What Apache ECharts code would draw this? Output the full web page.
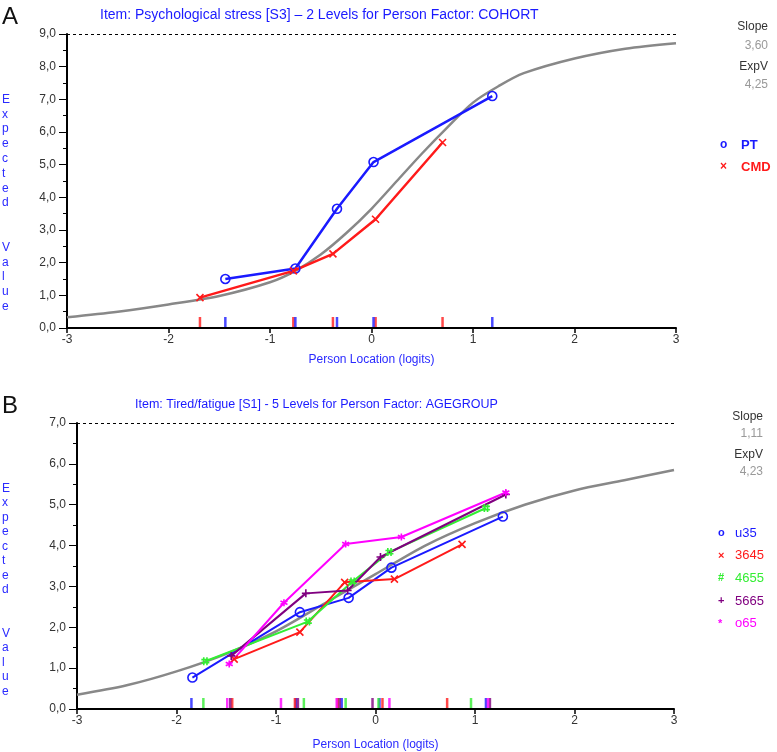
<!DOCTYPE html>
<html><head><meta charset="utf-8">
<script src="https://cdn.jsdelivr.net/npm/echarts@6/dist/echarts.min.js"></script>
<style>html,body{margin:0;padding:0;background:#fff}#c{width:777px;height:752px}</style>
</head><body><div id="c"></div>
<script>
// ---------- Panel A ----------
const titleA = 'Item: Psychological stress [S3] \u2013 2 Levels for Person Factor: COHORT';
const groupsA = ['PT', 'CMD'];
const ptX = [-1.44, -0.75, -0.34, 0.02, 1.19];
const ptY = [1.50, 1.82, 3.65, 5.08, 7.10];
const cmdX = [-1.69, -0.77, -0.38, 0.04, 0.70];
const cmdY = [0.93, 1.75, 2.27, 3.33, 5.68];
const curveAX = [-3, -2.5, -2, -1.5, -1, -0.75, -0.5, -0.25, 0, 0.25, 0.5, 0.75, 1, 1.25, 1.5, 2, 2.5, 3];
const curveAY = [0.33, 0.5, 0.72, 0.98, 1.4, 1.75, 2.25, 2.9, 3.65, 4.5, 5.35, 6.15, 6.9, 7.4, 7.8, 8.25, 8.55, 8.72];
const slopeA = '3,60';
const expVA = '4,25';
const maxA = 9;

// ---------- Panel B ----------
const titleB = 'Item: Tired/fatigue [S1] - 5 Levels for Person Factor: AGEGROUP';
const groupsB = ['u35', '3645', '4655', '5665', 'o65'];
const u35X = [-1.84, -0.76, -0.27, 0.16, 1.28];
const u35Y = [0.77, 2.37, 2.72, 3.46, 4.71];
const g3645X = [-1.42, -0.76, -0.31, 0.19, 0.87];
const g3645Y = [1.22, 1.88, 3.10, 3.18, 4.03];
const g4655X = [-1.71, -0.68, -0.23, 0.14, 1.11];
const g4655Y = [1.17, 2.14, 3.12, 3.84, 4.92];
const g5665X = [-1.45, -0.70, -0.28, 0.05, 1.31];
const g5665Y = [1.30, 2.83, 2.90, 3.72, 5.25];
const o65X = [-1.47, -0.92, -0.30, 0.26, 1.31];
const o65Y = [1.10, 2.60, 4.04, 4.21, 5.30];
const u35Ticks = [-1.85, -0.80, -0.34, 0.04, 1.11];
const g3645Ticks = [-1.44, -0.81, -0.38, 0.07, 0.72];
const g4655Ticks = [-1.73, -0.72, -0.30, 0.03, 0.96];
const g5665Ticks = [-1.46, -0.78, -0.36, -0.03, 1.15];
const o65Ticks = [-1.49, -0.95, -0.39, 0.14, 1.13];
const curveBX = [-3, -2.5, -2, -1.5, -1, -0.5, 0, 0.5, 1, 1.5, 2, 2.5, 3];
const curveBY = [0.35, 0.58, 0.92, 1.35, 1.9, 2.6, 3.3, 4.0, 4.55, 5.0, 5.35, 5.6, 5.85];
const slopeB = '1,11';
const expVB = '4,23';
const maxB = 7;

const xLabel = 'Person Location (logits)';
const yLabel = 'Expected  Value';

const BLUE = '#1a1aff', RED = '#ff1a1a', GREEN = '#33ee33', PURPLE = '#800080', MAG = '#ff00ff', GREY = '#888888';
const SYM_X = 'path://M0,0L10,10M10,0L0,10';
const SYM_HASH = 'path://M3,0L3,10M7,0L7,10M0,3L10,3M0,7L10,7';
const SYM_PLUS = 'path://M5,0L5,10M0,5L10,5';
const SYM_STAR = 'path://M5,0L5,10M0,2.5L10,7.5M0,7.5L10,2.5';
const FONT = '"Liberation Sans", Arial, sans-serif';

const pairs = (xs, ys) => xs.map((x, i) => [x, ys[i]]);

function lineSeries(name, xs, ys, color, symbol, size, idx, width) {
  return {
    type: 'line', name, xAxisIndex: idx, yAxisIndex: idx,
    data: pairs(xs, ys), symbol, symbolSize: size, showAllSymbol: true,
    lineStyle: { color, width },
    itemStyle: { color: 'rgba(0,0,0,0)', borderColor: color, borderWidth: 1.6 },
    z: 3, silent: true
  };
}
function tickSeries(ticks, color, idx) {
  return {
    type: 'scatter', xAxisIndex: idx, yAxisIndex: idx,
    data: ticks.map(t => [t, 0]), symbol: 'rect', symbolSize: [2.5, 10],
    symbolOffset: [0, -6], itemStyle: { color }, clip: false, silent: true, z: 5
  };
}
function curveSeries(xs, ys, idx, max) {
  return {
    type: 'line', xAxisIndex: idx, yAxisIndex: idx, data: pairs(xs, ys),
    smooth: 0.3, symbol: 'none', lineStyle: { color: GREY, width: 2.5 }, z: 2, silent: true,
    markLine: {
      silent: true, symbol: 'none', label: { show: false },
      lineStyle: { type: [3, 3], color: '#000', width: 1 },
      data: [{ yAxis: max }]
    }
  };
}
function xAxis(idx, gap) {
  return {
    type: 'value', gridIndex: idx, min: -3, max: 3, interval: 1,
    name: xLabel, nameLocation: 'middle', nameGap: gap,
    nameTextStyle: { color: '#2a2aff', fontSize: 12, fontFamily: FONT },
    axisLine: { onZero: false, lineStyle: { color: '#000', width: 2 } },
    axisTick: { length: 5, lineStyle: { color: '#000', width: 1.5 } },
    axisLabel: { color: '#333', fontSize: 12, fontFamily: FONT, margin: 6 },
    splitLine: { show: false }
  };
}
function yAxis(idx, max) {
  return {
    type: 'value', gridIndex: idx, min: 0, max, interval: 1,
    axisLine: { show: true, onZero: false, lineStyle: { color: '#000', width: 2 } },
    axisTick: { show: true, length: 8, lineStyle: { color: '#000', width: 1 } },
    minorTick: { show: true, splitNumber: 2, length: 4, lineStyle: { color: '#000', width: 1 } },
    axisLabel: { color: '#333', fontSize: 12, fontFamily: FONT, margin: 11,
      formatter: v => v.toFixed(1).replace('.', ',') },
    splitLine: { show: false }
  };
}
function vertText(x, y, lh) {
  return { type: 'text', left: x, top: y, style: {
    text: yLabel.split('').join('\n'), fill: '#2a2aff', font: '12px ' + FONT,
    lineHeight: lh, align: 'center' } };
}
function txt(x, y, text, fill, font, align) {
  return { type: 'text', x, y, style: { text, fill, font, align: align || 'left', verticalAlign: 'middle' } };
}

const legendA = [{ m: 'o', c: BLUE }, { m: '\u00d7', c: RED }];
const legendB = [{ m: 'o', c: BLUE }, { m: '\u00d7', c: RED }, { m: '#', c: GREEN }, { m: '+', c: PURPLE }, { m: '*', c: MAG }];

const graphics = [
  txt(2, 17, 'A', '#111', '24px ' + FONT),
  txt(100, 15, titleA, '#1a1aff', '14px ' + FONT),
  vertText(2, 92, 14.8),
  txt(768, 27, 'Slope', '#333', '12px ' + FONT, 'right'),
  txt(768, 46, slopeA, '#999', '12px ' + FONT, 'right'),
  txt(768, 67, 'ExpV', '#333', '12px ' + FONT, 'right'),
  txt(768, 85, expVA, '#999', '12px ' + FONT, 'right'),
  txt(2, 406, 'B', '#111', '24px ' + FONT),
  txt(135, 405, titleB, '#1a1aff', '12.5px "Liberation Sans Narrow", ' + FONT),
  vertText(2, 481, 14.5),
  txt(763, 417, 'Slope', '#333', '12px ' + FONT, 'right'),
  txt(763, 434, slopeB, '#999', '12px ' + FONT, 'right'),
  txt(763, 455, 'ExpV', '#333', '12px ' + FONT, 'right'),
  txt(763, 472, expVB, '#999', '12px ' + FONT, 'right')
];
groupsA.forEach((g, i) => {
  graphics.push(txt(720, 145 + i * 22, legendA[i].m, legendA[i].c, 'bold 12px ' + FONT));
  graphics.push(txt(741, 145 + i * 22, g, legendA[i].c, 'bold 13px ' + FONT));
});
groupsB.forEach((g, i) => {
  graphics.push(txt(718, 533 + i * 22.7, legendB[i].m, legendB[i].c, 'bold 11px ' + FONT));
  graphics.push(txt(735, 533 + i * 22.7, g, legendB[i].c, '13px "Liberation Sans Narrow", ' + FONT));
});

const chart = echarts.init(document.getElementById('c'), null, { renderer: 'canvas' });
chart.setOption({
  animation: false,
  backgroundColor: '#fff',
  grid: [
    { left: 67, right: 101, top: 34, height: 294 },
    { left: 77, right: 103, top: 423, height: 289 }
  ],
  xAxis: [xAxis(0, 26), xAxis(1, 30)],
  yAxis: [yAxis(0, maxA), yAxis(1, maxB)],
  graphic: graphics,
  series: [
    curveSeries(curveAX, curveAY, 0, maxA),
    lineSeries(groupsA[0], ptX, ptY, BLUE, 'circle', 9, 0, 2.5),
    lineSeries(groupsA[1], cmdX, cmdY, RED, SYM_X, 7, 0, 2.5),
    tickSeries(cmdX, RED, 0),
    tickSeries(ptX, BLUE, 0),
    curveSeries(curveBX, curveBY, 1, maxB),
    lineSeries(groupsB[0], u35X, u35Y, BLUE, 'circle', 9, 1, 2),
    lineSeries(groupsB[1], g3645X, g3645Y, RED, SYM_X, 7, 1, 2),
    lineSeries(groupsB[2], g4655X, g4655Y, GREEN, SYM_HASH, 8, 1, 2),
    lineSeries(groupsB[3], g5665X, g5665Y, PURPLE, SYM_PLUS, 8, 1, 2),
    lineSeries(groupsB[4], o65X, o65Y, MAG, SYM_STAR, 7, 1, 2),
    tickSeries(u35Ticks, BLUE, 1),
    tickSeries(g3645Ticks, RED, 1),
    tickSeries(g4655Ticks, GREEN, 1),
    tickSeries(g5665Ticks, PURPLE, 1),
    tickSeries(o65Ticks, MAG, 1)
  ]
});
</script>
</body></html>
